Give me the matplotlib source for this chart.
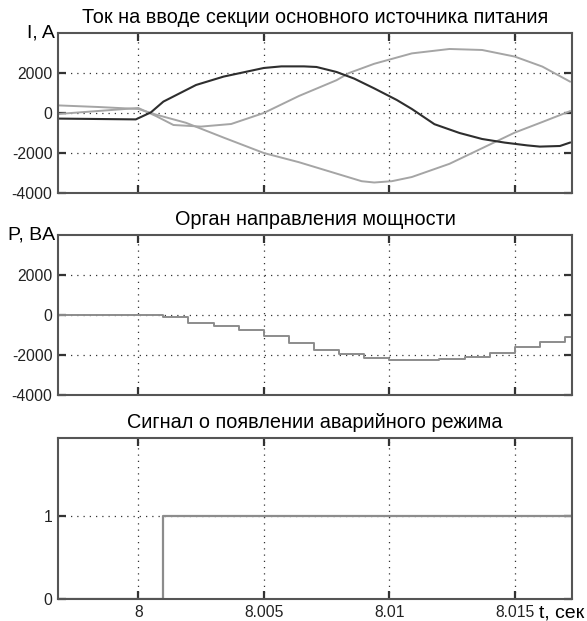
import matplotlib.pyplot as plt
import numpy as np

plt.rcParams['font.family'] = ['Liberation Sans', 'DejaVu Sans']

t_dark = [7.9968, 7.9999, 8.0005, 8.0010, 8.0023, 8.0034, 8.0050, 8.0057, 8.0066,
          8.0071, 8.0079, 8.0086, 8.0094, 8.0103, 8.0109, 8.0118, 8.0128, 8.0137,
          8.0146, 8.0155, 8.0160, 8.0168, 8.0172]
i_dark = [-280, -320, 30, 570, 1400, 1820, 2250, 2330, 2330,
          2300, 2050, 1720, 1230, 650, 200, -560, -1000, -1300,
          -1480, -1620, -1680, -1650, -1480]

t_up = [7.9968, 7.9984, 8.0000, 8.0007, 8.0014, 8.0025, 8.0037, 8.0050, 8.0064,
        8.0079, 8.0084, 8.0094, 8.0109, 8.0124, 8.0137, 8.0150, 8.0161, 8.0172]
i_up = [-50, 100, 250, -150, -600, -680, -550, 0, 850,
        1640, 2000, 2460, 2980, 3200, 3150, 2820, 2320, 1570]

t_down = [7.9968, 7.9984, 8.0000, 8.0007, 8.0019, 8.0034, 8.0050, 8.0064, 8.0079,
          8.0089, 8.0094, 8.0101, 8.0109, 8.0124, 8.0133, 8.0150, 8.0161, 8.0172]
i_down = [380, 300, 200, -80, -490, -1230, -2000, -2460, -3030,
          -3410, -3475, -3410, -3200, -2540, -2000, -980, -450, 90]

# Орган направления мощности: ступенчатый сигнал
t_p = [7.9968, 8.000, 8.001, 8.002, 8.003, 8.004, 8.005, 8.006, 8.007, 8.008,
       8.009, 8.010, 8.011, 8.012, 8.013, 8.014, 8.015, 8.016, 8.017, 8.0172]
p = [0, 20, -80, -400, -570, -740, -1070, -1410, -1750, -1970,
     -2130, -2270, -2270, -2180, -2080, -1880, -1620, -1330, -1080, -1080]

# Сигнал о появлении аварийного режима
t_sig = [7.9968, 8.0010, 8.0172]
sig = [0, 1, 1]

x_ticks = [8, 8.005, 8.01, 8.015]
x_labels = ['8', '8.005', '8.01', '8.015']
y_ticks = [-4000, -2000, 0, 2000]
y_labels = ['-4000', '-2000', '0', '2000']

fig = plt.figure(figsize=(5.87, 6.21), dpi=100)
left, width = 0.0988, 0.8756
ax1 = fig.add_axes([left, 0.6892, width, 0.2577])
ax2 = fig.add_axes([left, 0.3639, width, 0.2577])
ax3 = fig.add_axes([left, 0.0354, width, 0.2593])

tick_font = {'size': 11.3}


def style(ax, yt, yl, show_x):
    ax.set_xlim(7.9968, 8.01728)
    ax.set_xticks(x_ticks)
    ax.set_yticks(yt)
    ax.set_yticklabels(yl, fontdict=tick_font, color='#222222')
    if show_x:
        ax.set_xticklabels(x_labels, fontdict=tick_font, color='#222222')
    else:
        ax.set_xticklabels([])
    ax.tick_params(direction='in', length=6, width=1.6, color='#333333',
                   top=True, right=True, pad=4)
    ax.grid(True, color='#333333', linestyle=(0, (1, 4)), linewidth=0.9)
    for s in ax.spines.values():
        s.set_color('#555555')
        s.set_linewidth(1.5)


# верхний график
ax1.plot(t_up, i_up, color='#a5a5a5', linewidth=1.4)
ax1.plot(t_down, i_down, color='#a5a5a5', linewidth=1.4)
ax1.plot(t_dark, i_dark, color='#2e2e2e', linewidth=1.5)
ax1.set_ylim(-4000, 4000)
style(ax1, y_ticks, y_labels, False)
ax1.set_title('Ток на вводе секции основного источника питания', fontsize=14.3, pad=7)
ax1.text(-0.006, 1.0, 'I, A', transform=ax1.transAxes, ha='right', va='center', fontsize=14)

# средний график
ax2.plot(t_p, p, color='#8c8c8c', linewidth=1.4, drawstyle='steps-post')
ax2.set_ylim(-4000, 4000)
style(ax2, y_ticks, y_labels, False)
ax2.set_title('Орган направления мощности', fontsize=14.3, pad=7)
ax2.text(-0.006, 1.0, 'P, BA', transform=ax2.transAxes, ha='right', va='center', fontsize=14)

# нижний график
ax3.plot(t_sig, sig, color='#8c8c8c', linewidth=1.6, drawstyle='steps-post')
ax3.set_ylim(0, 1.94)
style(ax3, [0, 1], ['0', '1'], True)
ax3.set_title('Сигнал о появлении аварийного режима', fontsize=14.3, pad=7)
ax3.text(0.936, -0.112, 't, сек', transform=ax3.transAxes, ha='left', va='baseline', fontsize=14)

fig.savefig('out.png', dpi=100)
